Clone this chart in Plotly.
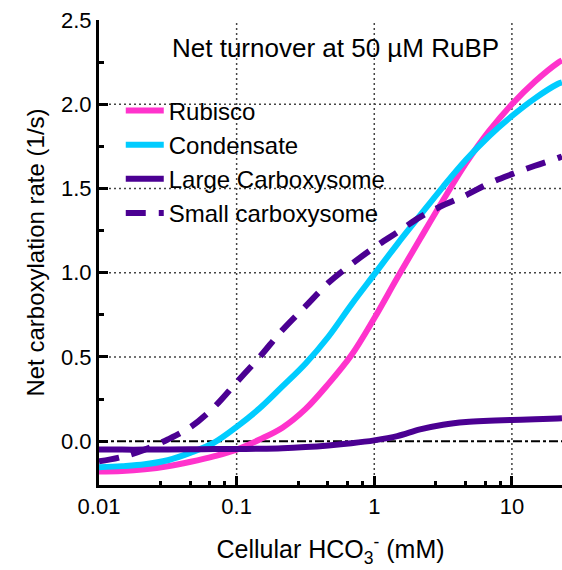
import plotly.graph_objects as go

# Cellular bicarbonate concentration (mM), six points per decade
hco3 = [0.01, 0.0147, 0.0215, 0.0316, 0.0464, 0.0681,
        0.1, 0.147, 0.215, 0.316, 0.464, 0.681,
        1, 1.47, 2.15, 3.16, 4.64, 6.81,
        10, 14.7, 21.5, 23.1]

# Net carboxylation rate (1/s) for each system
rubisco = [-0.18, -0.177, -0.167, -0.149, -0.122, -0.09,
           -0.05, 0.01, 0.08, 0.19, 0.34, 0.51,
           0.73, 0.97, 1.20, 1.43, 1.65, 1.84,
           2.00, 2.135, 2.245, 2.26]
condensate = [-0.155, -0.148, -0.137, -0.113, -0.068, -0.01,
              0.085, 0.195, 0.325, 0.46, 0.62, 0.81,
              0.99, 1.17, 1.34, 1.51, 1.67, 1.81,
              1.93, 2.035, 2.12, 2.13]
large_cb = [-0.05, -0.05, -0.05, -0.049, -0.048, -0.047,
            -0.046, -0.045, -0.042, -0.035, -0.025, -0.012,
            0.005, 0.03, 0.07, 0.098, 0.114, 0.121,
            0.126, 0.131, 0.135, 0.136]
small_cb = [-0.12, -0.093, -0.05, 0.01, 0.085, 0.20,
            0.35, 0.50, 0.66, 0.80, 0.94, 1.05,
            1.15, 1.24, 1.33, 1.40, 1.46, 1.53,
            1.585, 1.635, 1.68, 1.69]

series_names = ["Rubisco", "Condensate", "Large Carboxysome", "Small carboxysome"]
series_values = [rubisco, condensate, large_cb, small_cb]
colors = ["#FF33CC", "#00CCFF", "#4B0092", "#4B0092"]
dashes = ["solid", "solid", "solid", "20px,13px"]

x_ticks = [0.01, 0.1, 1, 10]
x_ticktext = ["0.01", "0.1", "1", "10"]
x_minor = [m * d for d in (0.01, 0.1, 1) for m in (2.8, 4.6, 6.4, 8.2)]
y_ticks = [0, 0.5, 1.0, 1.5, 2.0, 2.5]
y_ticktext = ["0.0", "0.5", "1.0", "1.5", "2.0", "2.5"]
y_minor = [0.25, 0.75, 1.25, 1.75, 2.25]
x_grid = [0.1, 1, 10]
y_grid = [0.5, 1.0, 1.5, 2.0]

FONT = "Arial, Liberation Sans, sans-serif"
GRID = dict(color="#444444", width=1.5, dash="2px,3px")

fig = go.Figure()
for name, vals, col, dash in zip(series_names, series_values, colors, dashes):
    fig.add_trace(go.Scatter(
        x=hco3, y=vals, name=name, mode="lines",
        line=dict(color=col, width=6, dash=dash, shape="spline", smoothing=1.0),
    ))

# dotted reference grid
shapes = []
for gx in x_grid:
    shapes.append(dict(type="line", xref="x", yref="paper",
                       x0=gx, x1=gx, y0=0, y1=1,
                       line=GRID, layer="between"))
for gy in y_grid:
    shapes.append(dict(type="line", xref="paper", yref="y", x0=0, x1=1, y0=gy, y1=gy,
                       line=GRID, layer="between"))
# zero reference
shapes.append(dict(type="line", xref="paper", yref="y", x0=0, x1=1, y0=0, y1=0,
                   line=dict(color="black", width=2, dash="9px,3px,3px,3px"),
                   layer="between"))

fig.update_layout(
    width=562, height=570,
    margin=dict(l=99, r=0, t=20, b=85),
    paper_bgcolor="white", plot_bgcolor="white",
    font=dict(family=FONT, color="black"),
    shapes=shapes,
    showlegend=True,
    legend=dict(x=0.047, y=0.853, xanchor="left", yanchor="top",
                font=dict(size=24, family=FONT), bgcolor="rgba(0,0,0,0)",
                itemwidth=38),
    annotations=[dict(text="Net turnover at 50 µM RuBP", xref="paper", yref="paper",
                      x=0.51, y=0.94, xanchor="center", yanchor="middle",
                      showarrow=False, font=dict(size=26, family=FONT))],
)

fig.update_xaxes(
    type="log", range=[-2, 1.364],
    showline=True, linewidth=3, linecolor="black",
    ticks="inside", ticklen=9, tickwidth=3, tickcolor="black",
    tickvals=x_ticks, ticktext=x_ticktext, tickfont=dict(size=22),
    showgrid=False, zeroline=False,
    minor=dict(ticks="inside", ticklen=4, tickwidth=3, tickcolor="black",
               tickvals=x_minor, showgrid=False),
    title=dict(text="Cellular HCO<sub>3</sub><sup>-</sup> (mM)", font=dict(size=25),
               standoff=23),
)
fig.update_yaxes(
    range=[-0.26, 2.5],
    showline=True, linewidth=3, linecolor="black",
    ticks="inside", ticklen=9, tickwidth=3, tickcolor="black",
    tickvals=y_ticks, ticktext=y_ticktext, tickfont=dict(size=22),
    showgrid=False, zeroline=False,
    minor=dict(ticks="inside", ticklen=5, tickwidth=3, tickcolor="black",
               tickvals=y_minor, showgrid=False),
    title=dict(text="Net carboxylation rate (1/s)", font=dict(size=24), standoff=10),
)

fig.write_html("out.html")
